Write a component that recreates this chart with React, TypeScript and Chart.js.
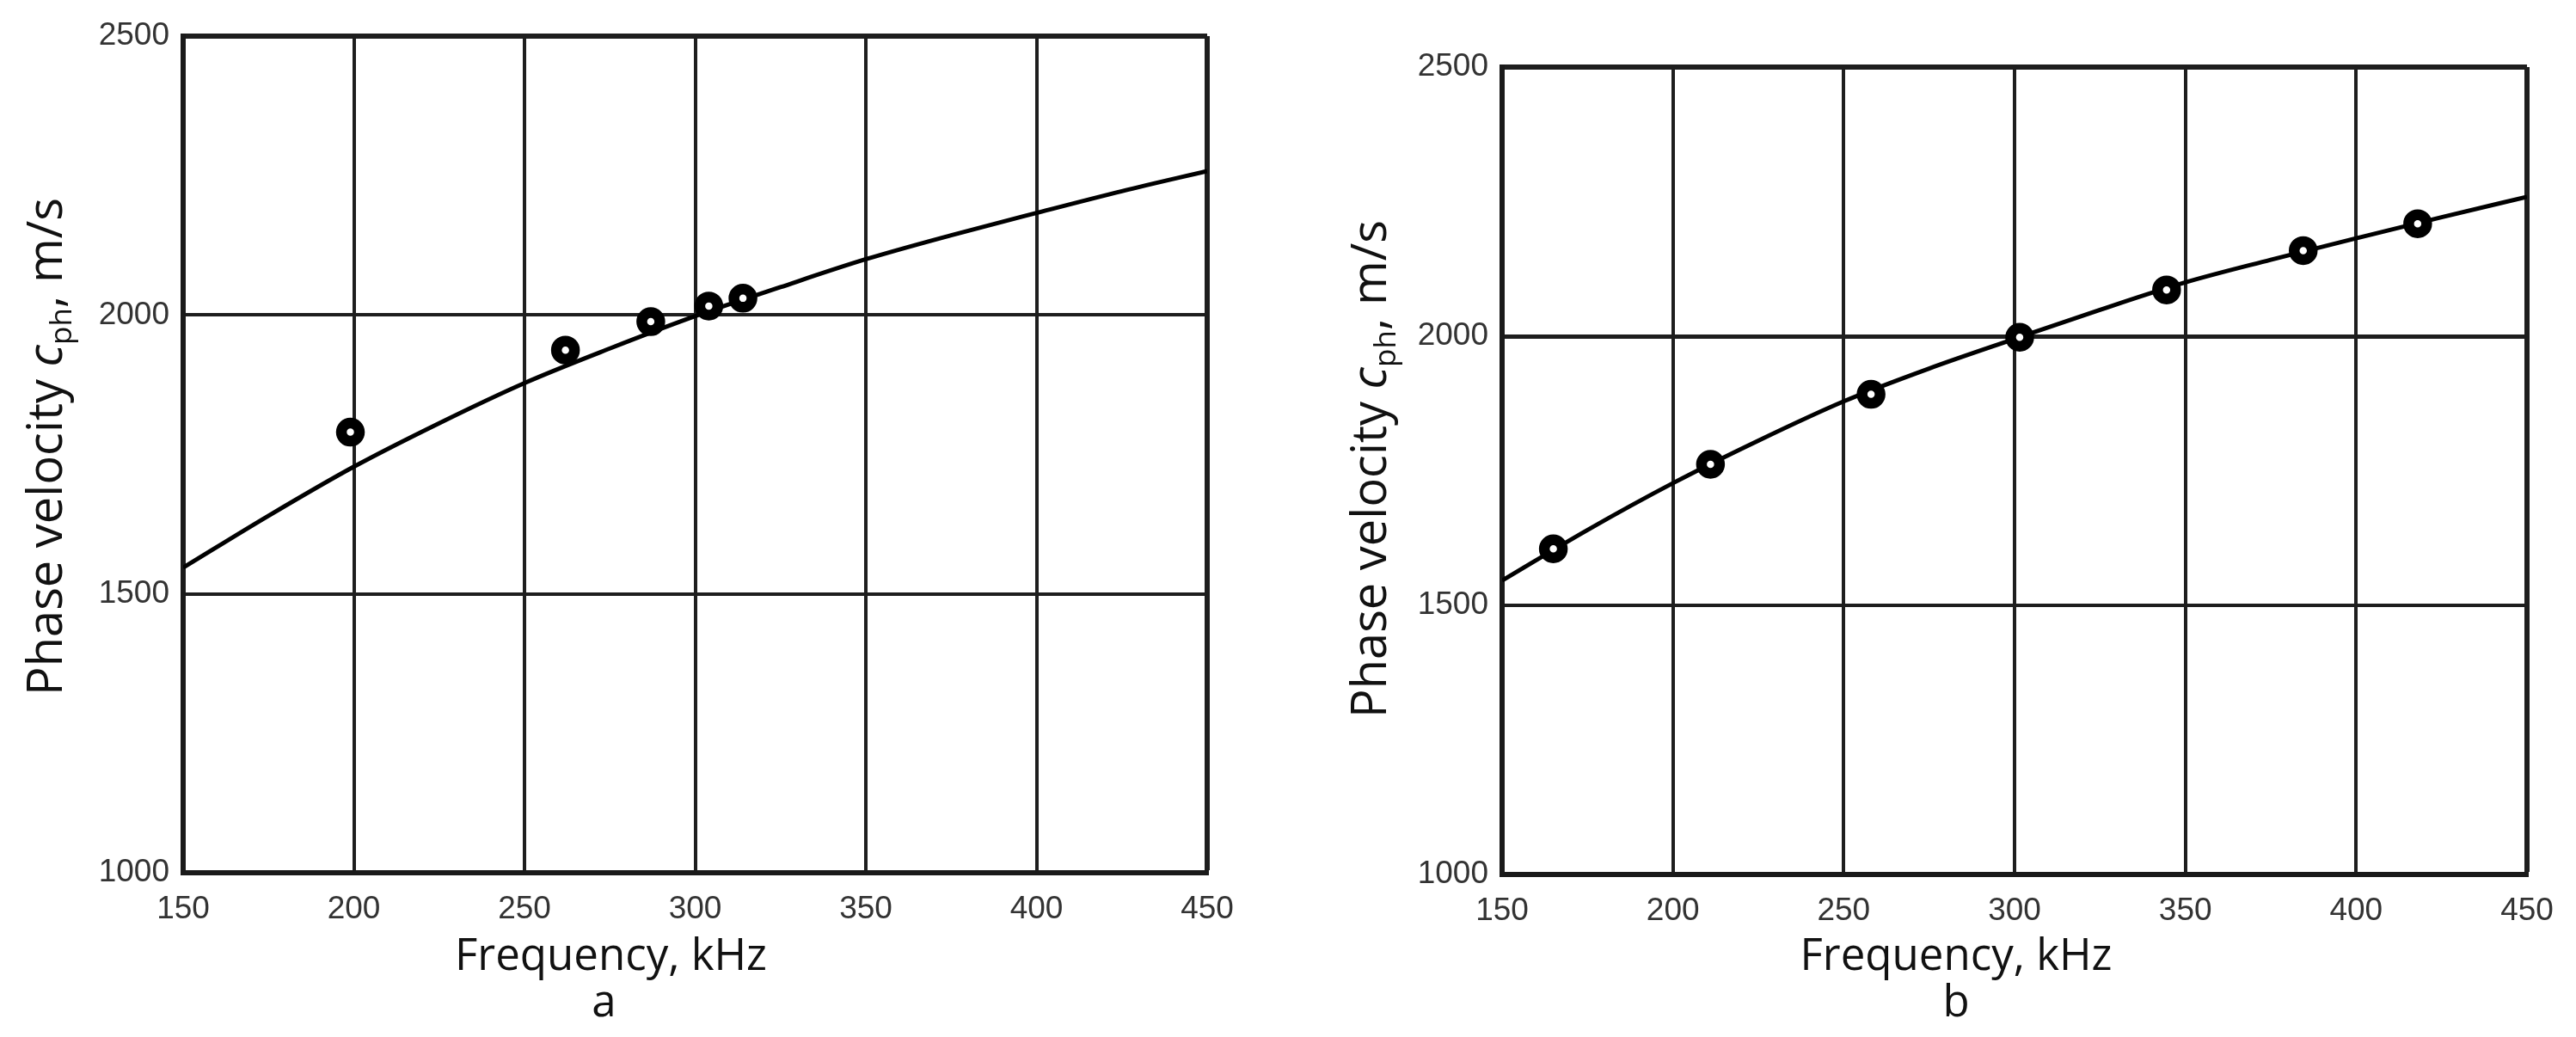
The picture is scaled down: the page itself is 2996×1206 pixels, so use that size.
import React, { useEffect, useRef } from "react";
import { Chart, registerables } from "chart.js";

Chart.register(...registerables);

// ---------- data ----------
const X_MIN = 150;
const X_MAX = 450;
const X_STEP = 50;
const Y_MIN = 1000;
const Y_MAX = 2500;
const Y_STEP = 500;

const xTickLabels = ["150", "200", "250", "300", "350", "400", "450"];
const yTickLabels = ["1000", "1500", "2000", "2500"];

const curveFreqA = [150, 175, 200, 225, 250, 275, 300, 325, 350, 375, 400, 425, 450];
const curveVelA = [1547, 1640, 1728, 1806, 1878, 1940, 1998, 2050, 2100, 2143, 2183, 2222, 2258];
const expFreqA = [199, 262, 287, 304, 314];
const expVelA = [1790, 1937, 1988, 2016, 2030];

const curveFreqB = [150, 175, 200, 225, 250, 275, 300, 325, 350, 375, 400, 425, 450];
const curveVelB = [1546, 1640, 1727, 1806, 1879, 1940, 1995, 2049, 2100, 2142, 2182, 2221, 2259];
const expFreqB = [165, 211, 258, 301.5, 344.5, 384.5, 418];
const expVelB = [1605, 1762, 1892, 1998, 2086, 2159, 2209];

const xTitle = "Frequency, kHz";
const yTitleParts = ["Phase velocity ", "c", "ph", ", m/s"];
const panelLetters = ["a", "b"];

// ---------- plugin: axis titles (with italic + subscript) ----------
const axisTitlesPlugin = {
  id: "axisTitles",
  afterDraw(chart: any, _args: any, opts: any) {
    const { ctx, chartArea } = chart;
    const cy = (chartArea.top + chartArea.bottom) / 2 + opts.yShift;
    ctx.save();
    ctx.fillStyle = "#111";
    ctx.textBaseline = "alphabetic";
    ctx.textAlign = "left";
    const main = `${opts.ySize}px "Open Sans", sans-serif`;
    const ital = `italic ${opts.ySize}px "Open Sans", sans-serif`;
    const sub = `${Math.round(opts.ySize * 0.62)}px "Open Sans", sans-serif`;
    const segs = [
      { t: yTitleParts[0], f: main, dy: 0 },
      { t: yTitleParts[1], f: ital, dy: 0 },
      { t: yTitleParts[2], f: sub, dy: opts.ySize * 0.2 },
      { t: yTitleParts[3], f: main, dy: 0 },
    ];
    let total = 0;
    const widths = segs.map((s) => {
      ctx.font = s.f;
      const w = ctx.measureText(s.t).width;
      total += w;
      return w;
    });
    ctx.translate(chartArea.left - opts.yOffset, cy);
    ctx.rotate(-Math.PI / 2);
    let x = -total / 2;
    segs.forEach((s, i) => {
      ctx.font = s.f;
      ctx.fillText(s.t, x, s.dy);
      x += widths[i];
    });
    ctx.restore();

    ctx.save();
    ctx.fillStyle = "#111";
    ctx.textAlign = "center";
    ctx.textBaseline = "alphabetic";
    ctx.font = `${opts.xSize}px "Open Sans", sans-serif`;
    const cx = (chartArea.left + chartArea.right) / 2 + opts.xShift;
    ctx.fillText(xTitle, cx, chartArea.bottom + opts.xOffset);
    ctx.fillText(opts.letter, cx + opts.letterShift, chartArea.bottom + opts.xOffset + opts.letterGap);
    ctx.restore();
  },
};

type PanelProps = {
  left: number;
  width: number;
  padTop: number;
  padRight: number;
  yAxisWidth: number;
  xAxisHeight: number;
  curveX: number[];
  curveY: number[];
  ptsX: number[];
  ptsY: number[];
  midLineW: number;
  titles: any;
};

function Panel(p: PanelProps) {
  const ref = useRef<HTMLCanvasElement | null>(null);
  useEffect(() => {
    if (!ref.current) return;
    const chart = new Chart(ref.current, {
      type: "scatter",
      data: {
        datasets: [
          {
            label: "measured",
            data: p.ptsX.map((x, i) => ({ x, y: p.ptsY[i] })),
            showLine: false,
            pointStyle: "circle",
            pointRadius: 10.5,
            pointHoverRadius: 10.5,
            borderWidth: 12.5,
            borderColor: "#000",
            backgroundColor: "#fff",
            order: 0,
          } as any,
          {
            label: "model",
            data: p.curveX.map((x, i) => ({ x, y: p.curveY[i] })),
            showLine: true,
            tension: 0.4,
            cubicInterpolationMode: "monotone",
            pointRadius: 0,
            borderWidth: 5,
            borderColor: "#000",
            backgroundColor: "#000",
            order: 1,
          } as any,
        ],
      },
      options: {
        responsive: false,
        animation: false,
        devicePixelRatio: 1,
        layout: { padding: { top: p.padTop, right: p.padRight, left: 0, bottom: 0 } },
        plugins: {
          legend: { display: false },
          tooltip: { enabled: false },
          axisTitles: p.titles,
        } as any,
        scales: {
          x: {
            type: "linear",
            min: X_MIN,
            max: X_MAX,
            ticks: {
              stepSize: X_STEP,
              padding: 21,
              color: "#333",
              font: { family: '"Liberation Sans", Arial, sans-serif', size: 37 },
              maxRotation: 0,
              callback: (v: any) => xTickLabels[Math.round((Number(v) - X_MIN) / X_STEP)] ?? "",
            },
            grid: {
              drawTicks: false,
              color: "#1e1e1e",
              lineWidth: (c: any) => (c.tick && c.tick.value === X_MAX ? 6 : 4),
            },
            border: { display: true, width: 6, color: "#1a1a1a" },
            afterFit: (s: any) => {
              s.height = p.xAxisHeight;
            },
          } as any,
          y: {
            type: "linear",
            min: Y_MIN,
            max: Y_MAX,
            ticks: {
              stepSize: Y_STEP,
              padding: 16,
              color: "#333",
              font: { family: '"Liberation Sans", Arial, sans-serif', size: 37 },
              callback: (v: any) => yTickLabels[Math.round((Number(v) - Y_MIN) / Y_STEP)] ?? "",
            },
            grid: {
              drawTicks: false,
              color: "#1e1e1e",
              lineWidth: (c: any) =>
                c.tick && c.tick.value === Y_MAX ? 6 : c.tick && c.tick.value === 2000 ? p.midLineW : 4,
            },
            border: { display: true, width: 6, color: "#1a1a1a" },
            afterFit: (s: any) => {
              s.width = p.yAxisWidth;
            },
          } as any,
        },
      },
      plugins: [axisTitlesPlugin],
    });
    return () => chart.destroy();
  }, []);
  return (
    <canvas
      ref={ref}
      width={p.width}
      height={1206}
      style={{ position: "absolute", left: p.left, top: 0, width: p.width, height: 1206, display: "block" }}
    />
  );
}

export default function App() {
  return (
    <div style={{ position: "absolute", left: 0, top: 0, width: 2996, height: 1206, background: "#fff", overflow: "hidden" }}>
      <Panel
        left={0}
        width={1480}
        padTop={42}
        padRight={76}
        yAxisWidth={213}
        xAxisHeight={191}
        curveX={curveFreqA}
        curveY={curveVelA}
        ptsX={expFreqA}
        ptsY={expVelA}
        midLineW={4}
        titles={{ ySize: 56, yOffset: 141, yShift: -9, xSize: 51, xShift: -98, xOffset: 113, letter: panelLetters[0], letterShift: -8, letterGap: 54 }}
      />
      <Panel
        left={1480}
        width={1516}
        padTop={78}
        padRight={57}
        yAxisWidth={267}
        xAxisHeight={189}
        curveX={curveFreqB}
        curveY={curveVelB}
        ptsX={expFreqB}
        ptsY={expVelB}
        midLineW={5}
        titles={{ ySize: 56, yOffset: 135, yShift: -2, xSize: 51, xShift: -68, xOffset: 111, letter: panelLetters[1], letterShift: 0, letterGap: 54 }}
      />
    </div>
  );
}
